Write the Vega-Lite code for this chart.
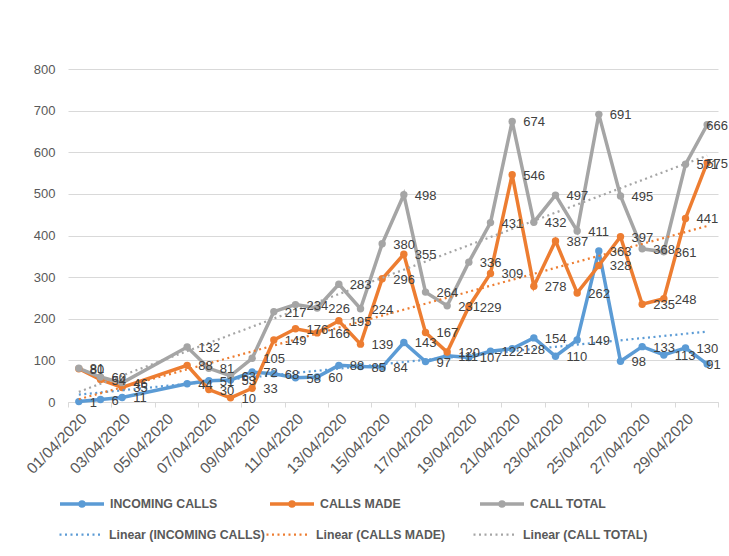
{
  "$schema": "https://vega.github.io/schema/vega-lite/v6.json",
  "width": 650,
  "height": 333,
  "autosize": {"type": "none"},
  "padding": {"left": 68, "top": 69, "right": 11, "bottom": 154},
  "background": "white",
  "config": {"view": {"stroke": null}},
  "data": {
    "format": {"parse": {"date": "date"}},
    "values": [
      {"date": "2020-04-01T00:00:00", "series": "INCOMING CALLS", "value": 1},
      {"date": "2020-04-02T00:00:00", "series": "INCOMING CALLS", "value": 6},
      {"date": "2020-04-03T00:00:00", "series": "INCOMING CALLS", "value": 11},
      {"date": "2020-04-06T00:00:00", "series": "INCOMING CALLS", "value": 44},
      {"date": "2020-04-07T00:00:00", "series": "INCOMING CALLS", "value": 51},
      {"date": "2020-04-08T00:00:00", "series": "INCOMING CALLS", "value": 53},
      {"date": "2020-04-09T00:00:00", "series": "INCOMING CALLS", "value": 72},
      {"date": "2020-04-10T00:00:00", "series": "INCOMING CALLS", "value": 68},
      {"date": "2020-04-11T00:00:00", "series": "INCOMING CALLS", "value": 58},
      {"date": "2020-04-12T00:00:00", "series": "INCOMING CALLS", "value": 60},
      {"date": "2020-04-13T00:00:00", "series": "INCOMING CALLS", "value": 88},
      {"date": "2020-04-14T00:00:00", "series": "INCOMING CALLS", "value": 85},
      {"date": "2020-04-15T00:00:00", "series": "INCOMING CALLS", "value": 84},
      {"date": "2020-04-16T00:00:00", "series": "INCOMING CALLS", "value": 143},
      {"date": "2020-04-17T00:00:00", "series": "INCOMING CALLS", "value": 97},
      {"date": "2020-04-18T00:00:00", "series": "INCOMING CALLS", "value": 111},
      {"date": "2020-04-19T00:00:00", "series": "INCOMING CALLS", "value": 107},
      {"date": "2020-04-20T00:00:00", "series": "INCOMING CALLS", "value": 122},
      {"date": "2020-04-21T00:00:00", "series": "INCOMING CALLS", "value": 128},
      {"date": "2020-04-22T00:00:00", "series": "INCOMING CALLS", "value": 154},
      {"date": "2020-04-23T00:00:00", "series": "INCOMING CALLS", "value": 110},
      {"date": "2020-04-24T00:00:00", "series": "INCOMING CALLS", "value": 149},
      {"date": "2020-04-25T00:00:00", "series": "INCOMING CALLS", "value": 363},
      {"date": "2020-04-26T00:00:00", "series": "INCOMING CALLS", "value": 98},
      {"date": "2020-04-27T00:00:00", "series": "INCOMING CALLS", "value": 133},
      {"date": "2020-04-28T00:00:00", "series": "INCOMING CALLS", "value": 113},
      {"date": "2020-04-29T00:00:00", "series": "INCOMING CALLS", "value": 130},
      {"date": "2020-04-30T00:00:00", "series": "INCOMING CALLS", "value": 91},
      {"date": "2020-04-01T00:00:00", "series": "CALLS MADE", "value": 80},
      {"date": "2020-04-02T00:00:00", "series": "CALLS MADE", "value": 54},
      {"date": "2020-04-03T00:00:00", "series": "CALLS MADE", "value": 35},
      {"date": "2020-04-06T00:00:00", "series": "CALLS MADE", "value": 88},
      {"date": "2020-04-07T00:00:00", "series": "CALLS MADE", "value": 30},
      {"date": "2020-04-08T00:00:00", "series": "CALLS MADE", "value": 10},
      {"date": "2020-04-09T00:00:00", "series": "CALLS MADE", "value": 33},
      {"date": "2020-04-10T00:00:00", "series": "CALLS MADE", "value": 149},
      {"date": "2020-04-11T00:00:00", "series": "CALLS MADE", "value": 176},
      {"date": "2020-04-12T00:00:00", "series": "CALLS MADE", "value": 166},
      {"date": "2020-04-13T00:00:00", "series": "CALLS MADE", "value": 195},
      {"date": "2020-04-14T00:00:00", "series": "CALLS MADE", "value": 139},
      {"date": "2020-04-15T00:00:00", "series": "CALLS MADE", "value": 296},
      {"date": "2020-04-16T00:00:00", "series": "CALLS MADE", "value": 355},
      {"date": "2020-04-17T00:00:00", "series": "CALLS MADE", "value": 167},
      {"date": "2020-04-18T00:00:00", "series": "CALLS MADE", "value": 120},
      {"date": "2020-04-19T00:00:00", "series": "CALLS MADE", "value": 229},
      {"date": "2020-04-20T00:00:00", "series": "CALLS MADE", "value": 309},
      {"date": "2020-04-21T00:00:00", "series": "CALLS MADE", "value": 546},
      {"date": "2020-04-22T00:00:00", "series": "CALLS MADE", "value": 278},
      {"date": "2020-04-23T00:00:00", "series": "CALLS MADE", "value": 387},
      {"date": "2020-04-24T00:00:00", "series": "CALLS MADE", "value": 262},
      {"date": "2020-04-25T00:00:00", "series": "CALLS MADE", "value": 328},
      {"date": "2020-04-26T00:00:00", "series": "CALLS MADE", "value": 397},
      {"date": "2020-04-27T00:00:00", "series": "CALLS MADE", "value": 235},
      {"date": "2020-04-28T00:00:00", "series": "CALLS MADE", "value": 248},
      {"date": "2020-04-29T00:00:00", "series": "CALLS MADE", "value": 441},
      {"date": "2020-04-30T00:00:00", "series": "CALLS MADE", "value": 575},
      {"date": "2020-04-01T00:00:00", "series": "CALL TOTAL", "value": 81},
      {"date": "2020-04-02T00:00:00", "series": "CALL TOTAL", "value": 60},
      {"date": "2020-04-03T00:00:00", "series": "CALL TOTAL", "value": 46},
      {"date": "2020-04-06T00:00:00", "series": "CALL TOTAL", "value": 132},
      {"date": "2020-04-07T00:00:00", "series": "CALL TOTAL", "value": 81},
      {"date": "2020-04-08T00:00:00", "series": "CALL TOTAL", "value": 63},
      {"date": "2020-04-09T00:00:00", "series": "CALL TOTAL", "value": 105},
      {"date": "2020-04-10T00:00:00", "series": "CALL TOTAL", "value": 217},
      {"date": "2020-04-11T00:00:00", "series": "CALL TOTAL", "value": 234},
      {"date": "2020-04-12T00:00:00", "series": "CALL TOTAL", "value": 226},
      {"date": "2020-04-13T00:00:00", "series": "CALL TOTAL", "value": 283},
      {"date": "2020-04-14T00:00:00", "series": "CALL TOTAL", "value": 224},
      {"date": "2020-04-15T00:00:00", "series": "CALL TOTAL", "value": 380},
      {"date": "2020-04-16T00:00:00", "series": "CALL TOTAL", "value": 498},
      {"date": "2020-04-17T00:00:00", "series": "CALL TOTAL", "value": 264},
      {"date": "2020-04-18T00:00:00", "series": "CALL TOTAL", "value": 231},
      {"date": "2020-04-19T00:00:00", "series": "CALL TOTAL", "value": 336},
      {"date": "2020-04-20T00:00:00", "series": "CALL TOTAL", "value": 431},
      {"date": "2020-04-21T00:00:00", "series": "CALL TOTAL", "value": 674},
      {"date": "2020-04-22T00:00:00", "series": "CALL TOTAL", "value": 432},
      {"date": "2020-04-23T00:00:00", "series": "CALL TOTAL", "value": 497},
      {"date": "2020-04-24T00:00:00", "series": "CALL TOTAL", "value": 411},
      {"date": "2020-04-25T00:00:00", "series": "CALL TOTAL", "value": 691},
      {"date": "2020-04-26T00:00:00", "series": "CALL TOTAL", "value": 495},
      {"date": "2020-04-27T00:00:00", "series": "CALL TOTAL", "value": 368},
      {"date": "2020-04-28T00:00:00", "series": "CALL TOTAL", "value": 361},
      {"date": "2020-04-29T00:00:00", "series": "CALL TOTAL", "value": 571},
      {"date": "2020-04-30T00:00:00", "series": "CALL TOTAL", "value": 666}
    ]
  },
  "encoding": {
    "x": {
      "field": "date",
      "type": "temporal",
      "scale": {"domain": [
        {"year": 2020, "month": 3, "date": 31, "hours": 12},
        {"year": 2020, "month": 4, "date": 30, "hours": 12}
      ]},
      "axis": {
        "values": [
          {"year": 2020, "month": 3, "date": 31, "hours": 12},
          {"year": 2020, "month": 4, "date": 2, "hours": 12},
          {"year": 2020, "month": 4, "date": 4, "hours": 12},
          {"year": 2020, "month": 4, "date": 6, "hours": 12},
          {"year": 2020, "month": 4, "date": 8, "hours": 12},
          {"year": 2020, "month": 4, "date": 10, "hours": 12},
          {"year": 2020, "month": 4, "date": 12, "hours": 12},
          {"year": 2020, "month": 4, "date": 14, "hours": 12},
          {"year": 2020, "month": 4, "date": 16, "hours": 12},
          {"year": 2020, "month": 4, "date": 18, "hours": 12},
          {"year": 2020, "month": 4, "date": 20, "hours": 12},
          {"year": 2020, "month": 4, "date": 22, "hours": 12},
          {"year": 2020, "month": 4, "date": 24, "hours": 12},
          {"year": 2020, "month": 4, "date": 26, "hours": 12},
          {"year": 2020, "month": 4, "date": 28, "hours": 12},
          {"year": 2020, "month": 4, "date": 30, "hours": 12}
        ],
        "labelExpr": "datum.index < 1 ? timeFormat(toNumber(datum.value) + 50400000, '%d/%m/%Y') : ''",
        "labelAngle": -45,
        "labelOffset": 10.8,
        "labelPadding": 4,
        "labelFont": "Liberation Sans",
        "labelFontSize": 15.5,
        "labelColor": "#595959",
        "labelOverlap": false,
        "labelBound": false,
        "labelFlush": false,
        "domainColor": "#D9D9D9",
        "domainWidth": 1,
        "tickColor": "#D9D9D9",
        "tickSize": 5,
        "grid": false,
        "title": null
      }
    },
    "y": {
      "field": "value",
      "type": "quantitative",
      "scale": {"domain": [0, 800], "nice": false},
      "axis": {
        "values": [0, 100, 200, 300, 400, 500, 600, 700, 800],
        "domain": false,
        "ticks": false,
        "grid": true,
        "gridColor": "#D9D9D9",
        "gridWidth": 1,
        "labelPadding": 13,
        "labelFont": "Liberation Sans",
        "labelFontSize": 13,
        "labelColor": "#595959",
        "title": null
      }
    }
  },
  "layer": [
    {
      "mark": {"type": "line", "strokeWidth": 3.5, "point": {"filled": true, "size": 55}},
      "encoding": {
        "color": {
          "field": "series",
          "type": "nominal",
          "scale": {"domain": ["INCOMING CALLS", "CALLS MADE", "CALL TOTAL"], "range": ["#5B9BD5", "#ED7D31", "#A5A5A5"]},
          "legend": {
            "orient": "none",
            "legendX": -10,
            "legendY": 411,
            "direction": "horizontal",
            "columns": 3,
            "gridAlign": "all",
            "columnPadding": 45,
            "padding": 0,
            "symbolType": "M-1,0H1M-0.09,0A0.09,0.09,0,1,0,0.09,0A0.09,0.09,0,1,0,-0.09,0",
            "symbolSize": 1936,
            "symbolStrokeWidth": 3.5,
            "labelFont": "Liberation Sans",
            "labelFontSize": 12.3,
            "labelFontWeight": "bold",
            "labelColor": "#595959",
            "labelOffset": 4,
            "labelLimit": 400,
            "title": null
          }
        },
        "order": {"field": "date", "type": "temporal"}
      }
    },
    {
      "transform": [{"regression": "value", "on": "date", "groupby": ["series"]}],
      "mark": {"type": "line", "strokeWidth": 2.2, "strokeDash": [2, 3.5]},
      "encoding": {
        "color": {
          "field": "series",
          "type": "nominal",
          "scale": {"domain": ["INCOMING CALLS", "CALLS MADE", "CALL TOTAL"], "range": ["#5B9BD5", "#ED7D31", "#A5A5A5"]},
          "legend": {
            "orient": "none",
            "legendX": -10,
            "legendY": 442,
            "direction": "horizontal",
            "columns": 3,
            "gridAlign": "all",
            "columnPadding": -3,
            "padding": 0,
            "symbolType": "stroke",
            "symbolSize": 1936,
            "symbolStrokeWidth": 2.2,
            "symbolDash": [2, 3.5],
            "labelExpr": "'Linear (' + datum.label + ')'",
            "labelFont": "Liberation Sans",
            "labelFontSize": 12.3,
            "labelFontWeight": "bold",
            "labelColor": "#595959",
            "labelOffset": 4,
            "labelLimit": 400,
            "title": null
          }
        }
      }
    },
    {
      "transform": [{"filter": {"not": {"field": "date", "timeUnit": "date", "equal": 30}}}],
      "mark": {"type": "text", "align": "left", "baseline": "middle", "dx": 11, "dy": 1, "font": "Liberation Sans", "fontSize": 13, "color": "#404040"},
      "encoding": {
        "text": {"field": "value", "type": "quantitative"}
      }
    },
    {
      "transform": [{"filter": {"field": "date", "timeUnit": "date", "equal": 30}}],
      "mark": {"type": "text", "align": "left", "baseline": "middle", "dx": -1, "dy": 1, "font": "Liberation Sans", "fontSize": 13, "color": "#404040"},
      "encoding": {
        "text": {"field": "value", "type": "quantitative"}
      }
    }
  ],
  "resolve": {"scale": {"color": "independent"}, "legend": {"color": "independent"}}
}
